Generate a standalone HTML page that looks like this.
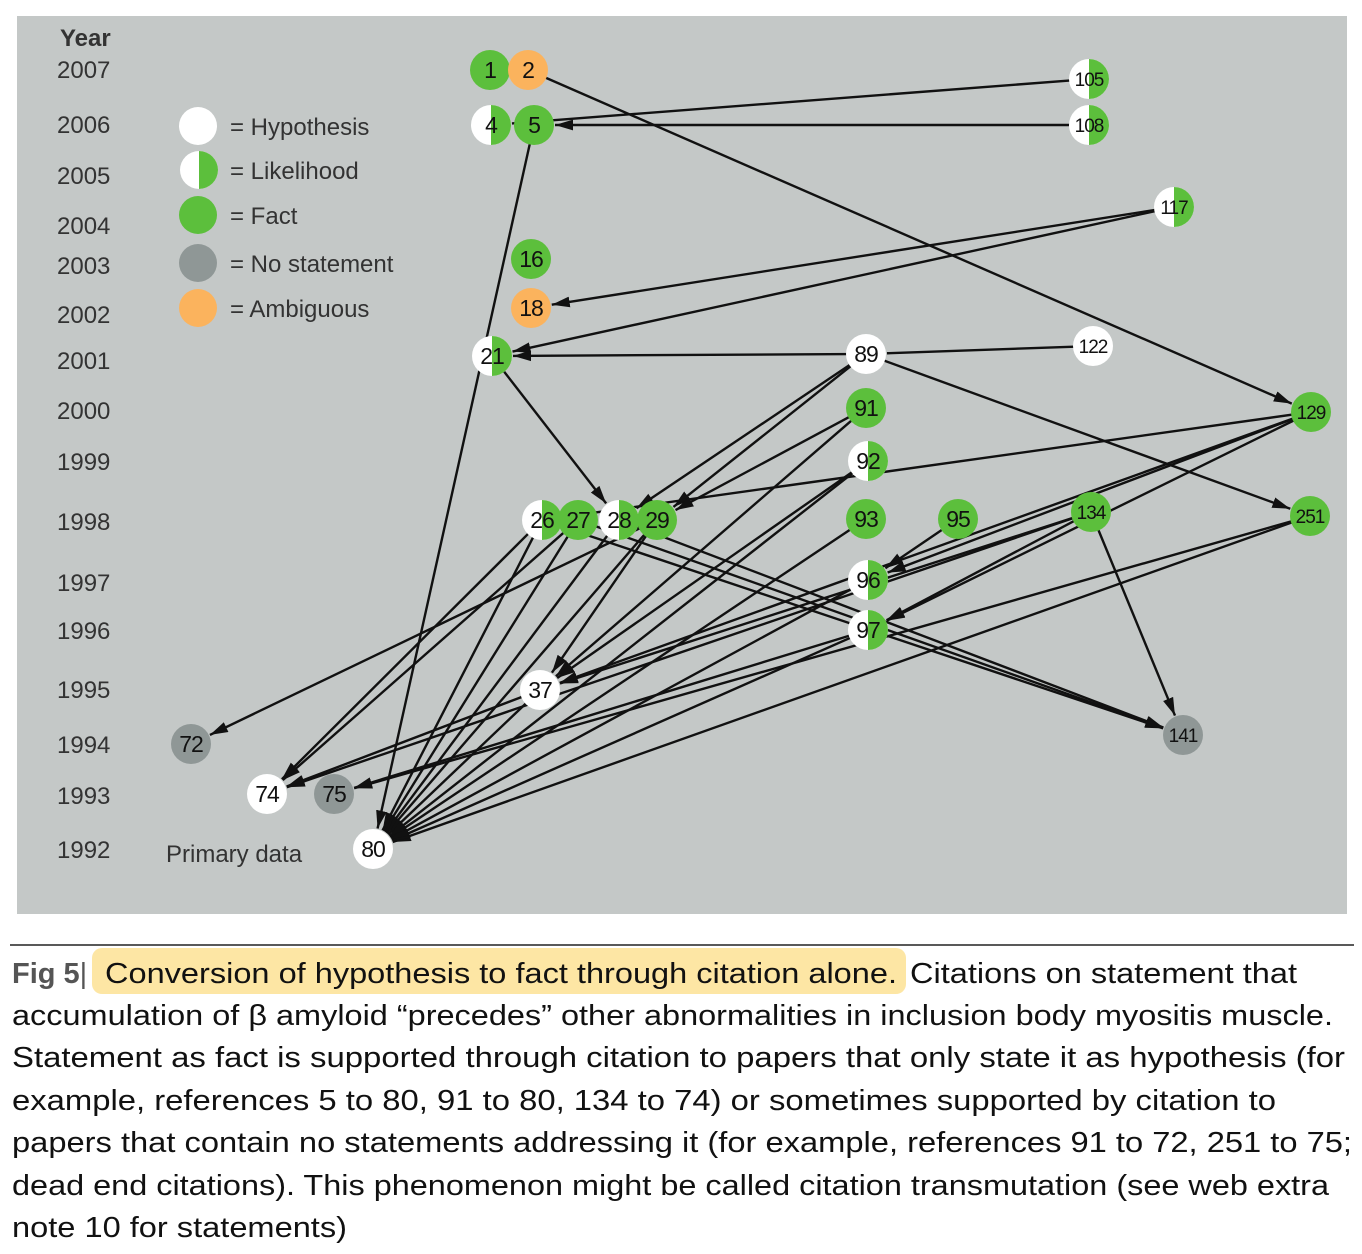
<!DOCTYPE html>
<html><head><meta charset="utf-8"><style>
html,body{margin:0;padding:0;background:#fff;width:1362px;height:1254px;overflow:hidden}
svg{display:block}
.yr{font-family:"Liberation Sans Narrow","Liberation Sans",sans-serif;font-size:24px;fill:#333}
.lg{font-family:"Liberation Sans Narrow","Liberation Sans",sans-serif;font-size:24px;fill:#333}
.cap{font-family:"Liberation Sans Narrow","Liberation Sans",sans-serif;font-size:29px;fill:#111}
</style></head><body>
<svg id="s" width="1362" height="1254" viewBox="0 0 1362 1254">
<defs>
<marker id="ah" viewBox="0 0 20 12" refX="20" refY="6" markerWidth="18" markerHeight="11" orient="auto" markerUnits="userSpaceOnUse"><path d="M0,0 L20,6 L0,12 z" fill="#111"/></marker>
</defs>
<rect x="17" y="16" width="1330" height="898" fill="#c4c8c7"/>
<g id="edges" stroke="#111" stroke-width="2.4" fill="none"></g>
<g id="nodes"></g>
<text class="yr" x="60" y="46" style="font-weight:bold;fill:#333">Year</text>
<text class="yr" x="57" y="78">2007</text>
<text class="yr" x="57" y="133">2006</text>
<text class="yr" x="57" y="184">2005</text>
<text class="yr" x="57" y="234">2004</text>
<text class="yr" x="57" y="274">2003</text>
<text class="yr" x="57" y="323">2002</text>
<text class="yr" x="57" y="369">2001</text>
<text class="yr" x="57" y="419">2000</text>
<text class="yr" x="57" y="470">1999</text>
<text class="yr" x="57" y="530">1998</text>
<text class="yr" x="57" y="591">1997</text>
<text class="yr" x="57" y="639">1996</text>
<text class="yr" x="57" y="698">1995</text>
<text class="yr" x="57" y="753">1994</text>
<text class="yr" x="57" y="804">1993</text>
<text class="yr" x="57" y="858">1992</text>
<circle cx="198" cy="126" r="19" fill="#fff"/>
<circle cx="199" cy="170" r="19" fill="#fff"/><path d="M199,151 A19,19 0 0 1 199,189 z" fill="#5cbf3c"/>
<circle cx="198" cy="215" r="19" fill="#5cbf3c"/>
<circle cx="198" cy="263" r="19" fill="#8f9796"/>
<circle cx="198" cy="308" r="19" fill="#fbb35d"/>
<text class="lg" x="230" y="135">= Hypothesis</text>
<text class="lg" x="230" y="179">= Likelihood</text>
<text class="lg" x="230" y="224">= Fact</text>
<text class="lg" x="230" y="272">= No statement</text>
<text class="lg" x="230" y="317">= Ambiguous</text>
<text class="lg" x="166" y="862">Primary data</text>
<line x1="10" y1="945" x2="1354" y2="945" stroke="#222" stroke-width="1.5"/>
<rect x="92" y="948" width="814" height="46" rx="10" fill="#fde39a" opacity="0.9"/>
<text class="cap" x="12" y="983"><tspan style="font-weight:bold;fill:#555">Fig 5</tspan><tspan fill="#555">|</tspan></text>
<text class="cap" x="105" y="983" textLength="792" lengthAdjust="spacingAndGlyphs">Conversion of hypothesis to fact through citation alone.</text>
<text class="cap" x="910" y="983" textLength="387" lengthAdjust="spacingAndGlyphs">Citations on statement that</text>
<text class="cap" x="12" y="1025" textLength="1321" lengthAdjust="spacingAndGlyphs">accumulation of β amyloid “precedes” other abnormalities in inclusion body myositis muscle.</text>
<text class="cap" x="12" y="1067" textLength="1333" lengthAdjust="spacingAndGlyphs">Statement as fact is supported through citation to papers that only state it as hypothesis (for</text>
<text class="cap" x="12" y="1110" textLength="1264" lengthAdjust="spacingAndGlyphs">example, references 5 to 80, 91 to 80, 134 to 74) or sometimes supported by citation to</text>
<text class="cap" x="12" y="1152" textLength="1340" lengthAdjust="spacingAndGlyphs">papers that contain no statements addressing it (for example, references 91 to 72, 251 to 75;</text>
<text class="cap" x="12" y="1195" textLength="1317" lengthAdjust="spacingAndGlyphs">dead end citations). This phenomenon might be called citation transmutation (see web extra</text>
<text class="cap" x="12" y="1237" textLength="335" lengthAdjust="spacingAndGlyphs">note 10 for statements)</text>
</svg>
<script>
var N={
1:[490,70,'F'],2:[528,70,'A'],4:[491,125,'L'],5:[534,125,'F'],105:[1089,79,'L'],108:[1089,125,'L'],
117:[1174,207,'L'],16:[531,259,'F'],18:[531,308,'A'],21:[492,356,'L'],89:[866,354,'H'],122:[1093,346,'H'],
91:[866,408,'F'],129:[1311,412,'F'],92:[868,461,'L'],26:[542,520,'L'],27:[578,520,'F'],28:[619,520,'L'],29:[657,520,'F'],
93:[866,519,'F'],95:[958,519,'F'],134:[1091,512,'F'],251:[1310,516,'F'],96:[868,580,'L'],97:[868,630,'L'],
37:[540,690,'H'],72:[191,744,'G'],141:[1183,735,'G'],74:[267,794,'H'],75:[334,794,'G'],80:[373,849,'H']};
var E=[[105,4],[108,5],[2,129],[117,18],[117,21],[122,89],[89,21],[5,80],[21,28],[89,29],[89,28],[89,251],
[129,26],[129,97],[129,96],[91,37],[91,29],[92,37],[134,141],[134,74],[134,37],[134,97],[95,96],[93,80],[251,75],[251,80],
[26,74],[26,80],[26,141],[27,74],[27,80],[27,141],[28,80],[28,141],[29,80],[29,72],[29,37],[37,80],[37,74],[97,80],[97,75],[96,80],[92,80],[129,37]];
var ns='http://www.w3.org/2000/svg',eg=document.getElementById('edges'),ng=document.getElementById('nodes');
var noArrow={'122,89':1};
E.forEach(function(e){var a=N[e[0]],b=N[e[1]];var dx=b[0]-a[0],dy=b[1]-a[1],d=Math.sqrt(dx*dx+dy*dy);
var l=document.createElementNS(ns,'line');l.setAttribute('x1',a[0]+dx/d*15);l.setAttribute('y1',a[1]+dy/d*15);
l.setAttribute('x2',b[0]-dx/d*21);l.setAttribute('y2',b[1]-dy/d*21);if(!noArrow[e.join(',')])l.setAttribute('marker-end','url(#ah)');eg.appendChild(l);});
var C={F:'#5cbf3c',A:'#fbb35d',G:'#8f9796',H:'#fff'};
for(var k in N){var n=N[k];var c=document.createElementNS(ns,'circle');c.setAttribute('cx',n[0]);c.setAttribute('cy',n[1]);c.setAttribute('r',20);
c.setAttribute('fill',n[2]=='L'?'#fff':C[n[2]]);ng.appendChild(c);
if(n[2]=='L'){var p=document.createElementNS(ns,'path');p.setAttribute('d','M'+n[0]+','+(n[1]-20)+' A20,20 0 0 1 '+n[0]+','+(n[1]+20)+' z');p.setAttribute('fill','#5cbf3c');ng.appendChild(p);}}
</script>
<svg width="1362" height="1254" style="position:absolute;left:0;top:0">
<g style="font-family:'Liberation Sans',sans-serif;font-size:23px;fill:#111;text-anchor:middle;letter-spacing:-1px">
<text x="490" y="78">1</text><text x="528" y="78">2</text><text x="491" y="133">4</text><text x="534" y="133">5</text>
<text x="1089" y="86" font-size="19">105</text><text x="1089" y="132" font-size="19">108</text><text x="1174" y="214" font-size="19">117</text>
<text x="531" y="267">16</text><text x="531" y="316">18</text><text x="492" y="364">21</text><text x="866" y="362">89</text>
<text x="1093" y="353" font-size="19">122</text><text x="866" y="416">91</text><text x="1311" y="419" font-size="19">129</text>
<text x="868" y="469">92</text><text x="542" y="528">26</text><text x="578" y="528">27</text><text x="619" y="528">28</text><text x="657" y="528">29</text>
<text x="866" y="527">93</text><text x="958" y="527">95</text><text x="1091" y="519" font-size="19">134</text><text x="1310" y="523" font-size="19">251</text>
<text x="868" y="588">96</text><text x="868" y="638">97</text><text x="540" y="698">37</text><text x="191" y="752">72</text>
<text x="1183" y="742" font-size="19">141</text><text x="267" y="802">74</text><text x="334" y="802">75</text><text x="373" y="857">80</text>
</g></svg>
</body></html>
